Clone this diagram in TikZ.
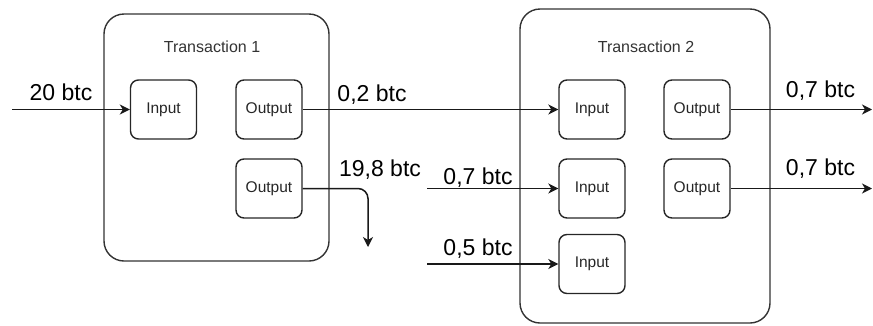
\documentclass[tikz,border=0pt]{standalone}
\usepackage{fontspec}
\setmainfont{Liberation Sans}
\usetikzlibrary{arrows.meta, positioning}

\begin{document}
\begin{tikzpicture}[
    x=1pt, y=-1pt,
    txbox/.style={rectangle, draw=black!80, line width=1.4pt, rounded corners=20pt, inner sep=0pt},
    port/.style={rectangle, draw=black!85, line width=1.4pt, rounded corners=8pt, minimum width=66pt, minimum height=59pt, inner sep=0pt, font=\fontsize{15.5}{18}\selectfont, text=black!85},
    title/.style={font=\fontsize{16}{19}\selectfont, text=black!80},
    amount/.style={font=\fontsize{23}{27}\selectfont, inner sep=0pt},
    arrow/.style={-{Stealth[length=10pt, width=10pt, inset=3pt]}, line width=1.5pt, draw=black!90}
]
\useasboundingbox (0,0) rectangle (873,325);

\node[txbox, minimum width=225pt, minimum height=247pt] (tx1) at (216.5,137.5) {};
\node[txbox, minimum width=250pt, minimum height=314pt] (tx2) at (645,166) {};
\node[title] (tx1title) at (212,47) {Transaction 1};
\node[title] (tx2title) at (646,47) {Transaction 2};

\node[port] (in1) at (163.5,109.5) {Input};
\node[port] (out1a) at (269,109.5) {Output};
\node[port] (out1b) at (269,188.5) {Output};

\node[port] (in2a) at (592,109.5) {Input};
\node[port] (in2b) at (592,188.5) {Input};
\node[port] (in2c) at (592,264) {Input};
\node[port] (out2a) at (697,109.5) {Output};
\node[port] (out2b) at (697,188.5) {Output};

\coordinate (src1) at (12,109.5);
\coordinate (src2b) at (427,188.5);
\coordinate (src2c) at (427,264);
\coordinate (bend1) at (368,188.5);
\coordinate (sink1) at (368,247);
\coordinate (sink2a) at (872,109.5);
\coordinate (sink2b) at (872,188.5);

\draw[arrow] (src1) -- (in1);
\draw[arrow] (out1a) -- (in2a);
\draw[arrow, rounded corners=10pt] (out1b) -- (bend1) -- (sink1);
\draw[arrow] (src2b) -- (in2b);
\draw[arrow] (src2c) -- (in2c);
\draw[arrow] (out2a) -- (sink2a);
\draw[arrow] (out2b) -- (sink2b);

\node[amount] (amt1) at (61,92) {20 btc};
\node[amount] (amt2) at (372,95) {0,2 btc};
\node[amount] (amt3) at (380,170) {19,8 btc};
\node[amount] (amt4) at (478,177.5) {0,7 btc};
\node[amount] (amt5) at (478,249) {0,5 btc};
\node[amount] (amt6) at (820.5,91) {0,7 btc};
\node[amount] (amt7) at (820.5,169) {0,7 btc};

\end{tikzpicture}
\end{document}
